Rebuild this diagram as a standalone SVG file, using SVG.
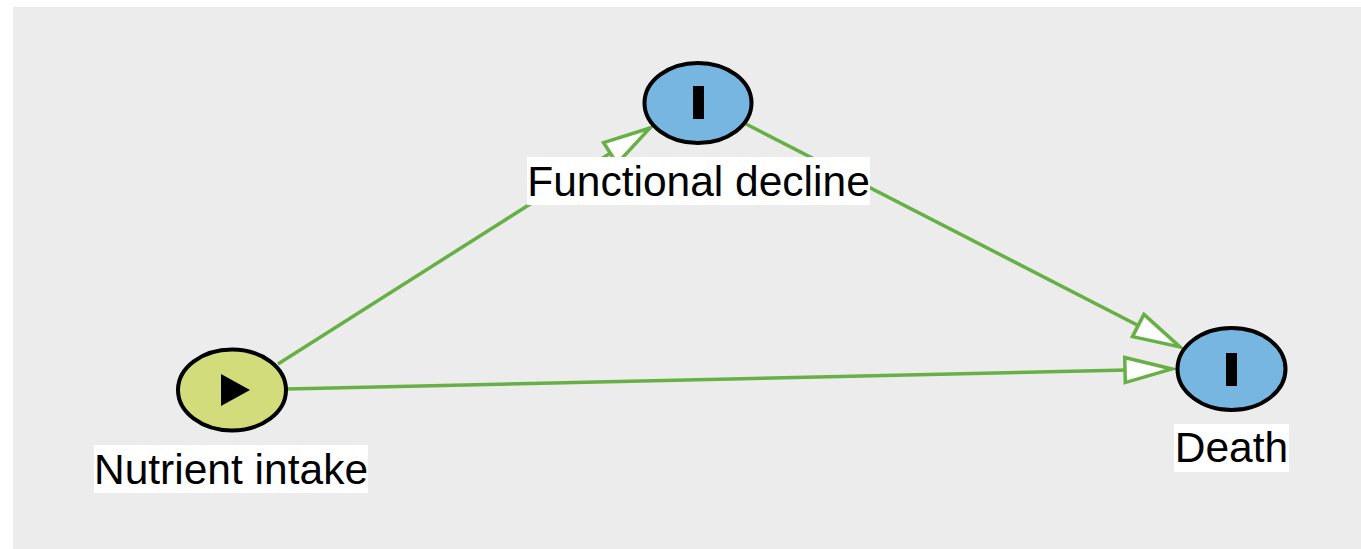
<svg xmlns="http://www.w3.org/2000/svg" width="1361" height="549" viewBox="0 0 1361 549">
  <defs>
    <marker id="arrow" markerUnits="userSpaceOnUse" markerWidth="54" markerHeight="32" refX="49" refY="15" orient="auto" overflow="visible">
      <path d="M2,2.5 L49,15 L2,27.5 Z" fill="#ffffff" stroke="#67b045" stroke-width="3.5" stroke-linejoin="miter"/>
    </marker>
    <style>
      .edge { stroke: #67b045; stroke-width: 3.5; fill: none; marker-end: url(#arrow); }
      .node { stroke: #000000; stroke-width: 4; }
      .exposure { fill: #d2dc7a; }
      .outcome { fill: #76b6e0; }
      .glyph { fill: #000000; }
      .label-bg { fill: #ffffff; }
      .label { font-family: "Liberation Sans", Arial, sans-serif; font-size: 42.5px; fill: #000000; text-anchor: middle; }
    </style>
  </defs>

  <!-- canvas -->
  <rect x="13" y="7" width="1348" height="542" fill="#ececec"/>

  <!-- causal arrows -->
  <g id="connectors">
    <line class="edge" x1="278" y1="364" x2="650" y2="128"/>
    <line class="edge" x1="746" y1="124" x2="1180" y2="347"/>
    <line class="edge" x1="287" y1="389" x2="1172" y2="369"/>
  </g>

  <!-- exposure -->
  <g id="node-nutrient-intake">
    <ellipse class="node exposure" cx="232" cy="390" rx="54" ry="40.5"/>
    <polygon class="glyph" points="221,374 250,390 221,406"/>
    <rect class="label-bg" x="94" y="445" width="274" height="48"/>
    <text class="label" x="231" y="484">Nutrient intake</text>
  </g>

  <!-- intermediate -->
  <g id="node-functional-decline">
    <ellipse class="node outcome" cx="698" cy="103" rx="53.5" ry="40"/>
    <rect class="glyph" x="693" y="86" width="11" height="33"/>
    <rect class="label-bg" x="527" y="157" width="343" height="48"/>
    <text class="label" x="698.5" y="196">Functional decline</text>
  </g>

  <!-- outcome -->
  <g id="node-death">
    <ellipse class="node outcome" cx="1231.5" cy="369" rx="54" ry="41"/>
    <rect class="glyph" x="1226" y="353" width="11" height="33"/>
    <rect class="label-bg" x="1174" y="424" width="115" height="48"/>
    <text class="label" x="1231.5" y="462">Death</text>
  </g>
</svg>
